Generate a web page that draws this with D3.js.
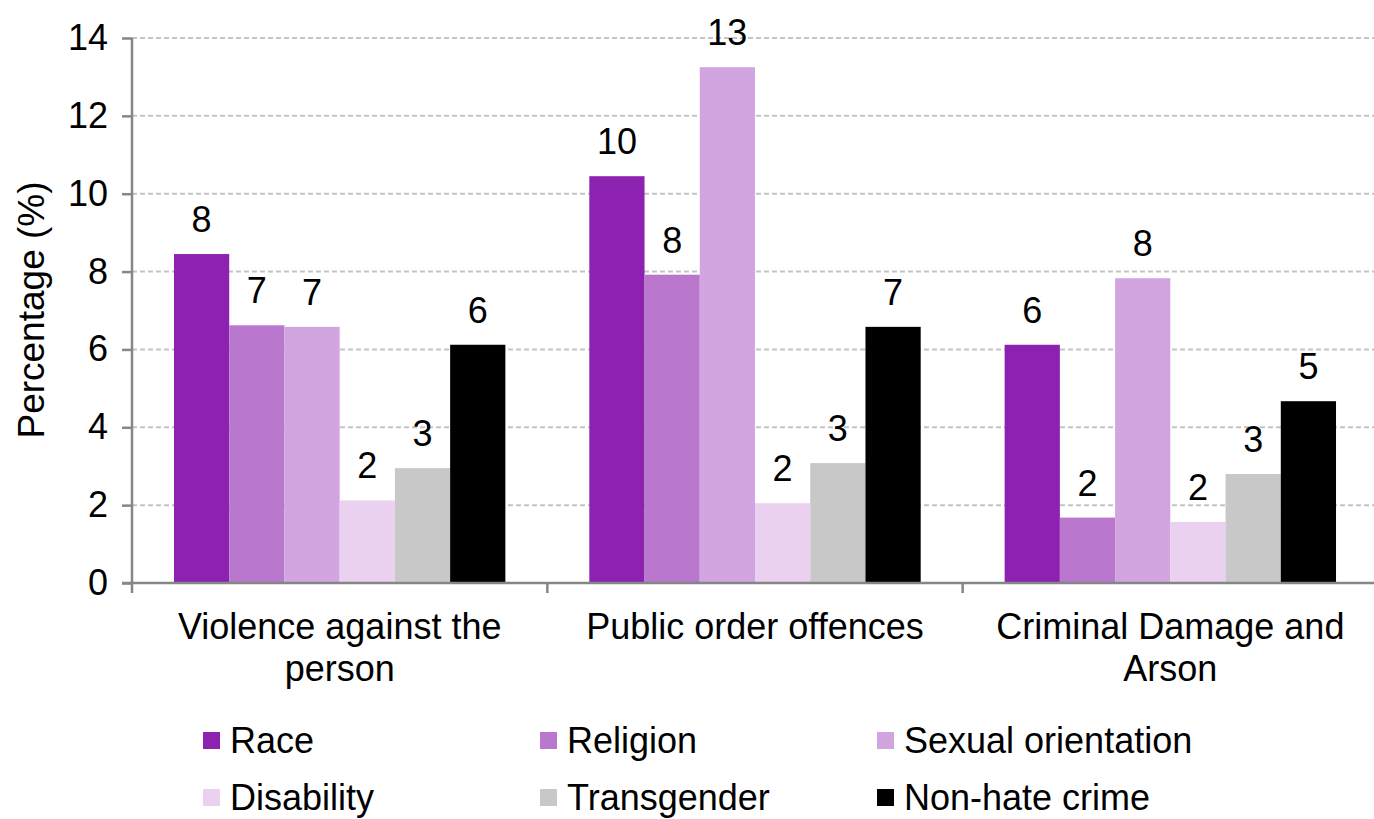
<!DOCTYPE html>
<html>
  <body style="margin:0;background:#fff">
    <script src="https://cdn.jsdelivr.net/npm/d3@7"></script>
    <script>
// grouped bar chart: hate crime percentages by offence type
var width = 1374;
var height = 819;

var categories = [["Violence against the", "person"], ["Public order offences"], ["Criminal Damage and", "Arson"]];
var series = ["Race", "Religion", "Sexual orientation", "Disability", "Transgender", "Non-hate crime"];
var colors = ["#8e22b0", "#b977ce", "#d2a5e0", "#e9d1ef", "#c8c8c8", "#000000"];

// one array per offence type, in series order
var violence = [8.45, 6.62, 6.58, 2.12, 2.95, 6.12];
var publicOrder = [10.45, 7.92, 13.25, 2.05, 3.08, 6.58];
var criminalDamage = [6.12, 1.68, 7.83, 1.57, 2.8, 4.67];
var values = [violence, publicOrder, criminalDamage];

var yTicks = [0, 2, 4, 6, 8, 10, 12, 14];

var font = "'Liberation Sans', Arial, sans-serif";
var fs = 36;

var svg = d3.select("body").append("svg")
  .attr("width", width)
  .attr("height", height)
  .style("font-family", font);

var x0 = d3.scaleBand()
  .domain(d3.range(categories.length))
  .range([132, 1378]);

var x1 = d3.scaleBand()
  .domain(series)
  .range([0, x0.bandwidth()])
  .paddingOuter(0.76);

var y = d3.scaleLinear()
  .domain([0, 14])
  .range([583, 38]);

// gridlines
svg.append("g")
  .selectAll("line")
  .data(yTicks.filter(d => d > 0))
  .join("line")
  .attr("x1", 132)
  .attr("x2", width)
  .attr("y1", d => y(d))
  .attr("y2", d => y(d))
  .attr("stroke", "#c4c4c4")
  .attr("stroke-width", 2)
  .attr("stroke-dasharray", "5,3");

// bars
var groups = svg.append("g")
  .selectAll("g")
  .data(values)
  .join("g")
  .attr("transform", (d, i) => "translate(" + x0(i) + ",0)");

groups.selectAll("rect")
  .data(d => d.map((v, j) => ({ key: series[j], value: v, color: colors[j] })))
  .join("rect")
  .attr("x", d => x1(d.key))
  .attr("width", x1.bandwidth())
  .attr("y", d => y(d.value))
  .attr("height", d => y(0) - y(d.value))
  .attr("fill", d => d.color);

// value labels (rounded)
groups.selectAll("text")
  .data(d => d.map((v, j) => ({ key: series[j], value: v })))
  .join("text")
  .attr("x", d => x1(d.key) + x1.bandwidth() / 2)
  .attr("y", d => y(d.value) - 22)
  .attr("text-anchor", "middle")
  .attr("font-size", fs)
  .attr("fill", "#000")
  .text(d => Math.round(d.value));

// y axis
var yAxis = svg.append("g")
  .attr("transform", "translate(132,0)")
  .call(d3.axisLeft(y).tickValues(yTicks).tickSize(10).tickPadding(14));
yAxis.select(".domain").attr("stroke", "#868686").attr("stroke-width", 2.5)
  .attr("d", "M0," + y(14) + "V" + y(0));
yAxis.selectAll(".tick line").attr("stroke", "#868686").attr("stroke-width", 2.5);
yAxis.selectAll(".tick text").attr("font-size", fs).attr("font-family", font).attr("fill", "#000");

// x axis
var xAxisG = svg.append("g");
xAxisG.append("line")
  .attr("x1", 122).attr("x2", width)
  .attr("y1", y(0)).attr("y2", y(0))
  .attr("stroke", "#868686").attr("stroke-width", 2.5);
xAxisG.selectAll(".sep")
  .data(d3.range(categories.length))
  .join("line")
  .attr("class", "sep")
  .attr("x1", d => x0(d)).attr("x2", d => x0(d))
  .attr("y1", y(0)).attr("y2", y(0) + 10)
  .attr("stroke", "#868686").attr("stroke-width", 2.5);

var catLabel = xAxisG.selectAll(".cat")
  .data(categories)
  .join("text")
  .attr("class", "cat")
  .attr("text-anchor", "middle")
  .attr("font-size", fs)
  .attr("fill", "#000");
catLabel.selectAll("tspan")
  .data((d, i) => d.map(line => ({ line: line, i: i })))
  .join("tspan")
  .attr("x", d => x0(d.i) + x0.bandwidth() / 2)
  .attr("y", (d, k) => 639 + k * 42)
  .text(d => d.line);

// y title
svg.append("text")
  .attr("transform", "translate(44,310) rotate(-90)")
  .attr("text-anchor", "middle")
  .attr("font-size", 37)
  .attr("fill", "#000")
  .text("Percentage (%)");

// legend, 3 columns x 2 rows
var legendX = [203, 540, 877];
var legendY = [741, 798];
var legend = svg.append("g")
  .selectAll("g")
  .data(series)
  .join("g")
  .attr("transform", (d, i) => "translate(" + legendX[i % 3] + "," + legendY[Math.floor(i / 3)] + ")");
legend.append("rect")
  .attr("x", 0).attr("y", -9)
  .attr("width", 17).attr("height", 17)
  .attr("fill", (d, i) => colors[i]);
legend.append("text")
  .attr("x", 27)
  .attr("y", 12)
  .attr("font-size", fs)
  .attr("fill", "#000")
  .text(d => d);
</script>
  </body>
</html>
